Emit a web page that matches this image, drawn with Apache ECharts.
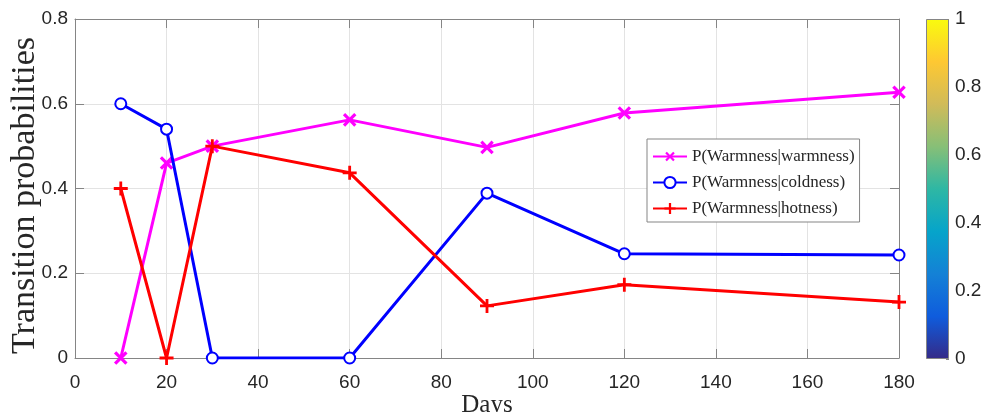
<!DOCTYPE html>
<html>
<head>
<meta charset="utf-8">
<script src="https://cdn.jsdelivr.net/npm/echarts@6/dist/echarts.min.js"></script>
<style>
html,body{margin:0;padding:0;background:#fff;}
#chart{width:983px;height:412px;}
</style>
</head>
<body>
<div id="chart"></div>
<script>
// ---- data ----
const days = [10, 20, 30, 60, 90, 120, 180];
const pWarmWarm = [0.0, 0.46, 0.50, 0.562, 0.497, 0.578, 0.627];
const pWarmCold = [0.60, 0.54, 0.0, 0.0, 0.389, 0.246, 0.243];
const pWarmHot  = [0.40, 0.0, 0.50, 0.437, 0.123, 0.173, 0.132];
const seriesNames = ['P(Warmness|warmness)', 'P(Warmness|coldness)', 'P(Warmness|hotness)'];
const colorbarRange = [0, 1];
const parula = ['#352A87', '#0F5CDD', '#1481D6', '#06A4CA', '#2EB7A4', '#87BF77', '#D1BB59', '#FEC832', '#F9FB0E'];

const pts = arr => days.map((d, i) => [d, arr[i]]);
const plusPath = 'path://M4,0H6V4H10V6H6V10H4V6H0V4H4Z';

const axisGrey = '#858585';
const textCol = '#262626';
const tickFont = { fontFamily: 'Liberation Sans, Arial, sans-serif', fontSize: 19, color: textCol };

const chart = echarts.init(document.getElementById('chart'), null, { renderer: 'canvas' });
chart.setOption({
  animation: false,
  backgroundColor: '#fff',
  grid: [
    { left: 75, right: 84, top: 19, bottom: 54, containLabel: false, outerBoundsMode: 'none' },
    { left: 926, width: 23, top: 19, bottom: 53, containLabel: false, outerBoundsMode: 'none' }
  ],
  xAxis: [
    {
      type: 'value', gridIndex: 0, min: 0, max: 180, interval: 20,
      name: 'Days', nameLocation: 'middle', nameGap: 35, nameMoveOverlap: false,
      nameTextStyle: { fontFamily: 'Liberation Serif, Times New Roman, serif', fontSize: 25, color: textCol },
      axisLine: { show: true, onZero: false, lineStyle: { color: axisGrey, width: 1 } },
      axisTick: { show: true, inside: true, length: 9, lineStyle: { color: axisGrey } },
      axisLabel: Object.assign({ margin: 15 }, tickFont),
      splitLine: { show: true, lineStyle: { color: '#e3e3e3', width: 1 } }
    },
    {
      type: 'value', gridIndex: 0, min: 0, max: 180, interval: 20, position: 'top',
      axisLine: { show: true, onZero: false, lineStyle: { color: axisGrey, width: 1 } },
      axisTick: { show: true, inside: true, length: 9, lineStyle: { color: axisGrey } },
      axisLabel: { show: false }, splitLine: { show: false }
    },
    {
      type: 'category', gridIndex: 1, data: ['cb'],
      axisLine: { show: false }, axisTick: { show: false }, axisLabel: { show: false }
    }
  ],
  yAxis: [
    {
      type: 'value', gridIndex: 0, min: 0, max: 0.8, interval: 0.2,
      name: 'Transition probabilities', nameLocation: 'middle', nameGap: 33, nameRotate: 90, nameMoveOverlap: false,
      nameTextStyle: { fontFamily: 'Liberation Serif, Times New Roman, serif', fontSize: 34, color: textCol, padding: [0, 14, 0, 0] },
      axisLine: { show: true, onZero: false, lineStyle: { color: axisGrey, width: 1 } },
      axisTick: { show: true, inside: true, length: 9, lineStyle: { color: axisGrey } },
      axisLabel: Object.assign({ margin: 7, formatter: v => (Math.round(v * 10) / 10).toString() }, tickFont),
      splitLine: { show: true, lineStyle: { color: '#e3e3e3', width: 1 } }
    },
    {
      type: 'value', gridIndex: 0, min: 0, max: 0.8, interval: 0.2, position: 'right',
      axisLine: { show: true, onZero: false, lineStyle: { color: axisGrey, width: 1 } },
      axisTick: { show: true, inside: true, length: 9, lineStyle: { color: axisGrey } },
      axisLabel: { show: false }, splitLine: { show: false }
    },
    {
      type: 'value', gridIndex: 1, min: colorbarRange[0], max: colorbarRange[1], interval: 0.2, position: 'right',
      axisLine: { show: false },
      axisTick: { show: true, inside: true, length: 3, lineStyle: { color: axisGrey } },
      axisLabel: Object.assign({ margin: 6, formatter: v => (Math.round(v * 10) / 10).toString() }, tickFont),
      splitLine: { show: false }
    }
  ],
  legend: {
    left: 647, top: 139, orient: 'vertical',
    itemWidth: 34, itemHeight: 14, itemGap: 9,
    padding: [9, 5, 5, 5],
    borderColor: axisGrey, borderWidth: 1, backgroundColor: '#fff',
    textStyle: { fontFamily: 'Liberation Serif, Times New Roman, serif', fontSize: 17, color: textCol },
    data: seriesNames
  },
  series: [
    {
      name: seriesNames[0], type: 'line', xAxisIndex: 0, yAxisIndex: 0,
      data: pts(pWarmWarm),
      symbol: plusPath, symbolSize: 16, symbolRotate: 45, showAllSymbol: true,
      lineStyle: { color: '#ff00ff', width: 3 },
      itemStyle: { color: '#ff00ff', borderWidth: 0 },
      z: 3
    },
    {
      name: seriesNames[1], type: 'line', xAxisIndex: 0, yAxisIndex: 0,
      data: pts(pWarmCold),
      symbol: 'emptyCircle', symbolSize: 11, showAllSymbol: true,
      lineStyle: { color: '#0000ff', width: 3 },
      itemStyle: { color: '#0000ff', borderColor: '#0000ff', borderWidth: 3 },
      z: 4
    },
    {
      name: seriesNames[2], type: 'line', xAxisIndex: 0, yAxisIndex: 0,
      data: pts(pWarmHot),
      symbol: plusPath, symbolSize: 14, showAllSymbol: true,
      lineStyle: { color: '#ff0000', width: 3 },
      itemStyle: { color: '#ff0000', borderWidth: 0 },
      z: 5
    },
    {
      name: 'colorbar', type: 'bar', xAxisIndex: 2, yAxisIndex: 2,
      data: [colorbarRange[1]], barWidth: '100%', silent: true,
      itemStyle: {
        color: new echarts.graphic.LinearGradient(0, 1, 0, 0,
          parula.map((c, i) => ({ offset: i / (parula.length - 1), color: c }))),
        borderColor: axisGrey, borderWidth: 1
      }
    }
  ]
});
</script>
</body>
</html>
